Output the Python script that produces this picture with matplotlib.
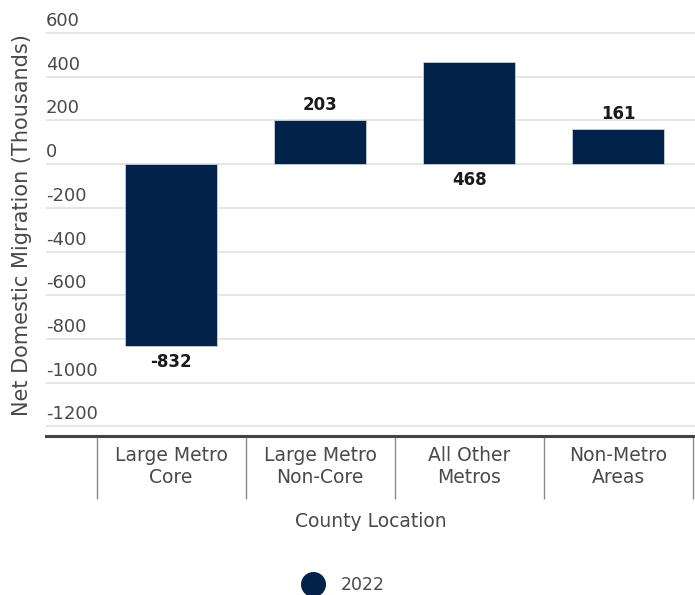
import matplotlib.pyplot as plt
from matplotlib.lines import Line2D
from matplotlib.transforms import blended_transform_factory

plt.rcParams['font.family'] = ['DejaVu Sans']

categories = ["Large Metro\nCore", "Large Metro\nNon-Core", "All Other\nMetros", "Non-Metro\nAreas"]
values = [-832, 203, 468, 161]
series_name = "2022"
y_ticks = [600, 400, 200, 0, -200, -400, -600, -800, -1000, -1200]
# label placement as in the source chart: above / below the bar end
label_side = ["below", "above", "base", "above"]

navy = '#012249'
grey_text = '#4a4a4a'

fig = plt.figure(figsize=(6.95, 5.95), dpi=100)
ax = fig.add_axes([0.066, 0.267, 0.934, 0.681])

xs = list(range(len(categories)))
ax.bar(xs, values, width=0.62, color=navy, edgecolor='#c8d0dc', linewidth=0.6, zorder=3)

ax.set_xlim(-0.84, 3.515)
ax.set_ylim(-1245, 610)

# grid + y labels sitting above the lines
ax.set_yticks(y_ticks)
ax.yaxis.grid(True, color='#e2e2e2', linewidth=1.2, zorder=0)
ax.tick_params(axis='y', length=0, labelleft=False)
tr = blended_transform_factory(ax.transAxes, ax.transData)
for t in y_ticks:
    ax.text(0.0, t + 14, str(t), transform=tr, ha='left', va='bottom',
            fontsize=13, color=grey_text)

# category axis with separators
ax.set_xticks(xs)
ax.set_xticklabels(categories, fontsize=13.5, color=grey_text, linespacing=1.2)
ax.set_xticks([x - 0.5 for x in xs] + [len(xs) - 0.5], minor=True)
ax.tick_params(axis='x', which='major', length=0, pad=7)
ax.tick_params(axis='x', which='minor', length=45, width=1, color='#8a8a8a')

for s in ['top', 'right', 'left']:
    ax.spines[s].set_visible(False)
ax.spines['bottom'].set_color('#444444')
ax.spines['bottom'].set_linewidth(2.2)

# data labels
for x, v, side in zip(xs, values, label_side):
    if side == "above":
        ax.annotate(str(v), (x, v), xytext=(0, 4), textcoords='offset points',
                    ha='center', va='bottom', fontsize=12, fontweight='bold', color='#1a1a1a')
    elif side == "below":
        ax.annotate(str(v), (x, v), xytext=(0, -5), textcoords='offset points',
                    ha='center', va='top', fontsize=12, fontweight='bold', color='#1a1a1a')
    else:
        ax.annotate(str(v), (x, 0), xytext=(0, -5), textcoords='offset points',
                    ha='center', va='top', fontsize=12, fontweight='bold', color='#1a1a1a')

ax.set_ylabel("Net Domestic Migration (Thousands)", fontsize=15, color=grey_text)
ax.yaxis.set_label_coords(-0.022, 0.52)
ax.set_xlabel("County Location", fontsize=13.5, color=grey_text, labelpad=6)

handle = Line2D([], [], marker='o', linestyle='none', markersize=17, color=navy)
fig.legend([handle], [series_name], loc='lower center', bbox_to_anchor=(0.49, -0.025),
           frameon=False, fontsize=12.5, handletextpad=0.6, labelcolor=grey_text)

fig.savefig("out.png", dpi=100)
